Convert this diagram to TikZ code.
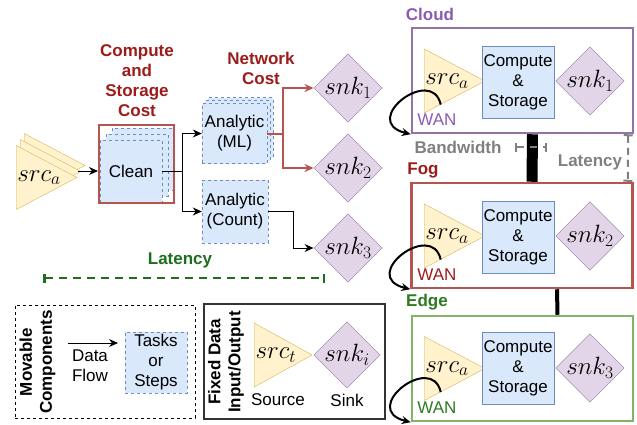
\RequirePackage{fix-cm}
\documentclass[tikz,border=0pt]{standalone}
\usepackage{fontspec}
\setmainfont{Liberation Sans}
\usepackage{xcolor}
\usetikzlibrary{shapes.geometric, arrows.meta, positioning, calc}

\definecolor{srcfill}{HTML}{FFF2CC}
\definecolor{srcline}{HTML}{D6B656}
\definecolor{snkfill}{HTML}{E1D5E7}
\definecolor{snkline}{HTML}{9673A6}
\definecolor{taskfill}{HTML}{DAE8FC}
\definecolor{taskline}{HTML}{6C8EBF}
\definecolor{costline}{HTML}{B85450}
\definecolor{costtext}{HTML}{9E1B1B}
\definecolor{cloudtext}{HTML}{8A5BB5}
\definecolor{edgeline}{HTML}{82B366}
\definecolor{edgetext}{HTML}{2D7A1F}
\definecolor{lattext}{HTML}{1F6E1F}
\definecolor{graytext}{HTML}{808080}

\begin{document}
\begin{tikzpicture}[
        x=1pt, y=-1pt,
        font=\fontsize{17}{20}\selectfont,
        src/.style={isosceles triangle, isosceles triangle stretches, draw=srcline, fill=srcfill, minimum width=64, minimum height=54, inner sep=0, anchor=lower side, font=\fontsize{25}{27}\selectfont},
        sink/.style={diamond, draw=snkline, fill=snkfill, minimum width=65, minimum height=64, inner sep=0, font=\fontsize{25}{27}\selectfont},
        task/.style={rectangle, draw=taskline, fill=taskfill, dashed, align=center, inner sep=0},
        store/.style={rectangle, draw=taskline, fill=taskfill, align=center, minimum width=72, minimum height=72, inner sep=0},
        tier/.style={rectangle, line width=2.5pt, minimum width=221, minimum height=105},
        label/.style={font=\fontsize{17}{20}\selectfont\bfseries, align=center},
        arrow/.style={-{Stealth[length=9pt,width=8pt]}, line width=1pt},
        wanloop/.style={-{Stealth[length=9pt,width=8pt]}, line width=2pt},
        measure/.style={{Bar[width=9pt]}-{Bar[width=9pt]}, dash pattern=on 8pt off 6pt, line width=2.5pt}
    ]
        \useasboundingbox (0,0) rectangle (637,424);

        % Quelle und Vorverarbeitung
        \node[src] (srcB) at (24,165.5) {\phantom{$src_a$}};
        \node[src] (srcM) at (20,171.5) {\phantom{$src_a$}};
        \node[src] (srcF) at (16,177.5) {$src_a$};
        \node[task, minimum width=62, minimum height=62] (cleanB) at (143,159) {};
        \node[task, minimum width=62, minimum height=62] (cleanM) at (137,165) {};
        \node[task, minimum width=62, minimum height=62] (clean) at (131,171) {Clean};
        \node[draw=costline, line width=2pt, minimum width=75, minimum height=78] (cleanbox) at (136.5,164) {};
        \node[label, text=costtext] (storecost) at (137,81) {Compute\\and\\Storage\\Cost};

        % Analysen
        \node[task, minimum width=65, minimum height=60] (mlB) at (240.5,127.5) {};
        \node[task, minimum width=65, minimum height=60] (mlM) at (237.5,130.5) {};
        \node[task, minimum width=65, minimum height=60] (ml) at (234.5,133.5) {Analytic\\(ML)};
        \node[task, minimum width=66, minimum height=63] (count) at (235,211.5) {Analytic\\(Count)};
        \node[label, text=costtext] (netcost) at (261,68) {Network\\Cost};

        % Senken
        \node[sink] (snk1) at (348,88) {$snk_1$};
        \node[sink] (snk2) at (348,168) {$snk_2$};
        \node[sink] (snk3) at (348,248) {$snk_3$};

        % Datenfluss
        \draw[arrow] (srcF.apex |- clean) -- (clean -| cleanbox.west);
        \draw[arrow] (clean.east) -- ++(20,0) |- (ml.west);
        \draw[arrow] (clean.east) -- ++(20,0) |- (count.west);
        \draw[arrow, draw=costline, line width=2pt] (ml.east) -- ++(16,0) |- (snk1.west);
        \draw[arrow, draw=costline, line width=2pt] (ml.east) -- ++(16,0) |- (snk2.west);
        \draw[arrow] (count.east) -- ++(25,0) |- (snk3.west);

        % Latenz
        \coordinate (latL) at (43,278);
        \coordinate (latR) at (325,278);
        \draw[measure, draw=lattext] (latL) -- (latR);
        \node[label, text=lattext] (latency) at (180,260) {Latency};

        % Cloud
        \node[tier, draw=snkline] (cloud) at (522.5,80.5) {};
        \node[label, text=cloudtext] (cloudlbl) at (430,14) {Cloud};
        \node[src] (cloudSrc) at (424,81) {$src_a$};
        \node[store] (cloudCS) at (518,82) {Compute\\\&\\Storage};
        \node[sink] (cloudSnk) at (590,81) {$snk_1$};
        \node[text=cloudtext] (cloudWan) at (437,120) {WAN};
        \draw[wanloop] (cloudSrc.-105) .. controls +(-9,-40) and +(-52,-13) .. (cloud.south west);

        % Fog
        \node[tier, draw=costline] (fog) at (522,235.5) {};
        \node[label, text=costtext] (foglbl) at (423,170) {Fog};
        \node[src] (fogSrc) at (424,236) {$src_a$};
        \node[store] (fogCS) at (518,237) {Compute\\\&\\Storage};
        \node[sink] (fogSnk) at (590,236) {$snk_2$};
        \node[text=costtext] (fogWan) at (437,275) {WAN};
        \draw[wanloop] (fogSrc.-105) .. controls +(-9,-40) and +(-52,-13) .. (fog.south west);

        % Edge
        \node[tier, draw=edgeline] (edge) at (522.5,368.5) {};
        \node[label, text=edgetext] (edgelbl) at (427,302) {Edge};
        \node[src] (edgeSrc) at (424,368.5) {$src_a$};
        \node[store] (edgeCS) at (518,368.5) {Compute\\\&\\Storage};
        \node[sink] (edgeSnk) at (590,368) {$snk_3$};
        \node[text=edgetext] (edgeWan) at (437,408) {WAN};
        \draw[wanloop] (edgeSrc.-105) .. controls +(-9,-40) and +(-52,-13) .. (edge.south west);

        % Verbindungen zwischen den Ebenen
        \draw[line width=11pt] ([xshift=10pt]cloud.south) -- ([xshift=10pt]fog.north);
        \draw[line width=4pt] ([xshift=35pt]fog.south) -- ([xshift=35pt]edge.north);
        \coordinate (bwL) at (515,147);
        \coordinate (bwR) at (547,147);
        \draw[measure, draw=graytext, line width=2pt, dash pattern=on 7pt off 6pt] (bwL) -- (bwR);
        \node[label, text=graytext] (bandwidth) at (458,147) {Bandwidth};
        \draw[measure, draw=graytext, line width=2pt, dash pattern=on 7pt off 5pt] ([xshift=-6pt]cloud.south east) -- ([xshift=-6pt]fog.north east);
        \node[label, text=graytext] (tierlat) at (590,162) {Latency};

        % Legende
        \node[draw, dashed, minimum width=180, minimum height=113] (movable) at (105,361.5) {};
        \node[label, rotate=90] (movlbl) at (37.5,362) {Movable\\Components};
        \coordinate (flowL) at (68,343);
        \coordinate (flowR) at (118,343);
        \draw[arrow] (flowL) -- (flowR);
        \node[align=center] (flowlbl) at (90,366) {Data\\Flow};
        \node[task, minimum width=62, minimum height=61] (tasks) at (156,362.5) {Tasks\\or\\Steps};

        \node[draw=black!80, line width=1.5pt, minimum width=181, minimum height=115] (fixed) at (294.5,361.5) {};
        \node[label, rotate=90] (fixlbl) at (226,362) {Fixed Data\\Input/Output};
        \node[src] (legSrc) at (254,355) {$src_t$};
        \node[sink] (legSnk) at (347,355) {$snk_i$};
        \node (srclbl) at (278,400) {Source};
        \node (snklbl) at (347,400) {Sink};
    \end{tikzpicture}
\end{document}
